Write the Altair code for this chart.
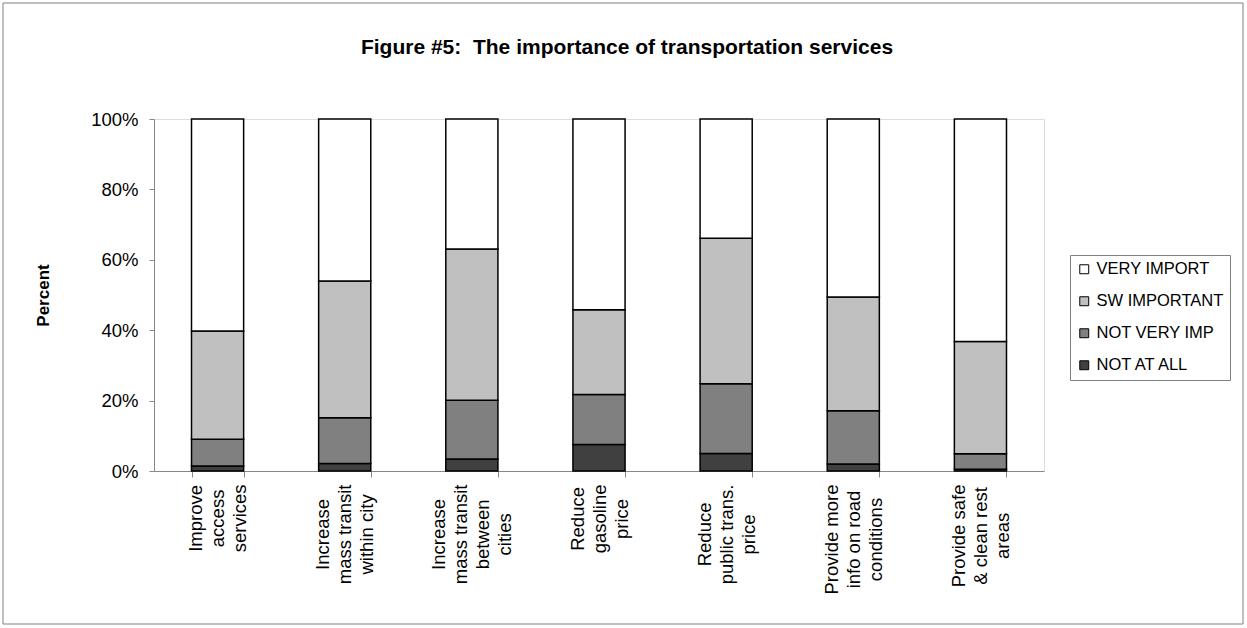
import altair as alt
import pandas as pd

title_text = "Figure #5:\u00a0 The importance of transportation services"
categories = [
    "Improve|access|services",
    "Increase|mass transit|within city",
    "Increase|mass transit|between|cities",
    "Reduce|gasoline|price",
    "Reduce|public trans.|price",
    "Provide more|info on road|conditions",
    "Provide safe|& clean rest|areas",
]
levels = ["VERY IMPORT", "SW IMPORTANT", "NOT VERY IMP", "NOT AT ALL"]
not_at_all = [1.4, 2.1, 3.4, 7.5, 5.0, 2.0, 0.5]
not_very_imp = [7.6, 13.0, 16.7, 14.2, 19.8, 15.1, 4.4]
sw_important = [30.8, 38.9, 43.0, 24.1, 41.3, 32.3, 31.9]
very_import = [60.2, 46.0, 36.9, 54.2, 33.9, 50.6, 63.2]
colors = ["#FFFFFF", "#C0C0C0", "#808080", "#404040"]

series = {
    "NOT AT ALL": not_at_all,
    "NOT VERY IMP": not_very_imp,
    "SW IMPORTANT": sw_important,
    "VERY IMPORT": very_import,
}
rows = []
for order, (lvl, vals) in enumerate(series.items()):
    for cat, v in zip(categories, vals):
        rows.append({"category": cat, "level": lvl, "value": v, "stack_order": order})
df = pd.DataFrame(rows)

FONT = "Liberation Sans"

# Arial / Liberation Sans advance widths (em) used to centre each multi-line label
ARIAL_W = {
    "a": .556, "b": .556, "c": .5, "d": .556, "e": .556, "f": .278, "g": .556,
    "h": .556, "i": .222, "j": .222, "k": .5, "l": .222, "m": .833, "n": .556,
    "o": .556, "p": .556, "q": .556, "r": .333, "s": .5, "t": .278, "u": .556,
    "v": .5, "w": .722, "x": .5, "y": .5, "z": .5, " ": .278, ".": .278,
    "&": .667, "I": .278, "R": .722, "P": .667,
}


def text_width(s, size):
    return sum(ARIAL_W.get(ch, .556) for ch in s) * size


LAB_FS = 18.5
LAB_LH = 22
offset_conds = []
pad_conds = []
for cat in categories:
    lines = cat.split("|")
    maxw = max(text_width(l, LAB_FS) for l in lines)
    test = f"datum.value === '{cat}'"
    offset_conds.append({"test": test, "value": -(len(lines) - 1) * LAB_LH / 2})
    pad_conds.append({"test": test, "value": round(7 + maxw / 2, 1)})

bars = alt.Chart(df).mark_bar(stroke="black", strokeWidth=1.5).encode(
    x=alt.X(
        "category:N",
        sort=categories,
        scale=alt.Scale(paddingInner=0.59, paddingOuter=0.295),
        axis=alt.Axis(
            title=None,
            labelAngle=270,
            labelAlign="center",
            labelBaseline="middle",
            labelExpr="split(datum.label, '|')",
            tickBand="extent",
            tickSize=6,
            labelPadding={"condition": pad_conds, "value": 7},
            labelOffset={"condition": offset_conds, "value": 0},
            labelLineHeight=LAB_LH,
            labelFontSize=LAB_FS,
            labelOverlap=False,
            labelLimit=400,
            grid=False,
        ),
    ),
    y=alt.Y(
        "value:Q",
        stack="normalize",
        scale=alt.Scale(domain=[0, 1]),
        axis=alt.Axis(
            format="%",
            values=[0, 0.2, 0.4, 0.6, 0.8, 1.0],
            title="Percent",
            titleFontSize=17,
            titleFontWeight="bold",
            titlePadding=38,
            tickSize=5,
            labelPadding=11,
            labelFontSize=18.5,
            grid=False,
        ),
    ),
    color=alt.Color(
        "level:N",
        scale=alt.Scale(domain=levels, range=colors),
        legend=alt.Legend(
            title=None,
            orient="none",
            legendX=916,
            legendY=136,
            padding=6,
            strokeColor="#808080",
            fillColor="white",
            symbolType="square",
            symbolSize=80,
            symbolStrokeColor="black",
            symbolStrokeWidth=1,
            labelFontSize=16.5,
            labelFont=FONT,
            labelColor="black",
            labelOffset=4,
            rowPadding=15,
        ),
    ),
    order=alt.Order("stack_order:Q", sort="ascending"),
)

one = pd.DataFrame({"k": [0]})

frame = alt.Chart(one).mark_rect(
    fill="transparent", stroke="#808080", strokeWidth=1
).encode(
    x=alt.value(-151), x2=alt.value(1089), y=alt.value(-116), y2=alt.value(505)
)

title = alt.Chart(one).mark_text(
    text=title_text,
    font=FONT,
    fontSize=21,
    fontWeight="bold",
    color="black",
    align="center",
    baseline="middle",
).encode(x=alt.value(473), y=alt.value(-71))

chart = alt.layer(frame, title, bars).properties(
    width=890,
    height=352,
    autosize=alt.AutoSizeParams(type="none"),
    padding={"left": 154, "top": 119, "right": 203, "bottom": 157},
).configure_view(
    stroke="#808080", strokeWidth=1
).configure_axis(
    domainColor="black",
    tickColor="black",
    labelColor="black",
    titleColor="black",
    labelFont=FONT,
    titleFont=FONT,
    grid=False,
    domainWidth=1,
    tickWidth=1,
).configure(background="white")

chart.save("out.html", embed_options={"renderer": "svg", "actions": False})
